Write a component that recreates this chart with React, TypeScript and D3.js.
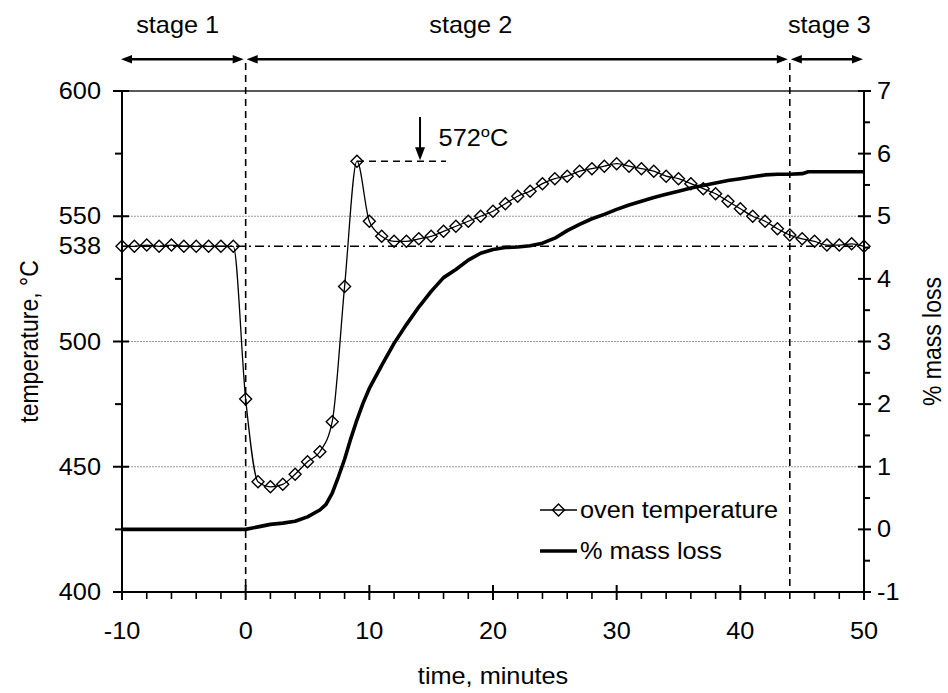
import React from "react";
import * as d3 from "d3";

// ---- data ----
const minutes = [-10,-9,-8,-7,-6,-5,-4,-3,-2,-1,0,1,2,3,4,5,6,7,8,9,10,11,12,13,14,15,16,17,18,19,20,21,22,23,24,25,26,27,28,29,30,31,32,33,34,35,36,37,38,39,40,41,42,43,44,45,46,47,48,49,50];
const ovenTemp = [538,538,538.5,538,538.5,538,538,538,538,538,477,444,442,443,447,452,456,468,522,572,548,542,540,540,541,542,544,546,548,550,552,555,558,560,563,565,566,568,569,570,571,570,569,568,566,565,563,561,559,556,553,550,548,545,542.5,541,540,538.5,538.5,539,538];

const massTime = [-10,0,1,2,3,4,5,6,6.5,7,7.5,8,8.5,9,9.5,10,11,12,13,14,15,16,17,18,19,20,21,22,23,24,25,26,27,28,29,30,31,32,33,34,35,36,37,38,39,40,41,42,43,44,45,45.5,50];
const massLoss = [0,0,0.04,0.08,0.1,0.13,0.2,0.31,0.4,0.58,0.84,1.12,1.45,1.75,2.02,2.25,2.62,2.97,3.27,3.55,3.8,4.02,4.15,4.3,4.41,4.47,4.5,4.51,4.53,4.57,4.65,4.77,4.87,4.96,5.03,5.11,5.18,5.24,5.3,5.35,5.4,5.45,5.49,5.53,5.57,5.6,5.63,5.66,5.67,5.67,5.68,5.71,5.71];

const tempTicks = [400,450,500,550,600];
const tempMinor = [425,475,525,575];
const tempGrid = [450,500,550];
const massTicks = [-1,0,1,2,3,4,5,6,7];
const massMinor = [-0.5,0.5,1.5,2.5,3.5,4.5,5.5,6.5];
const timeTicks = [-10,0,10,20,30,40,50];
const timeMinor = [-8,-6,-4,-2,2,4,6,8,12,14,16,18,22,24,26,28,32,34,36,38,42,44,46,48];
const stageBounds = [-10,0,44,50];
const stageNames = ["stage 1","stage 2","stage 3"];
const stageLabelAt = [-5.5,18.2,47.2];
const refTemp = 538;
const peakTime = 9;
const peakTemp = 572;
const peakLabel = "572";

const W = 948, H = 693;
const FS = 23;
const SX = 1.1;
const FONT = "Liberation Sans, Arial, sans-serif";

const T = ({ x, y, anchor = "start", rot = false, children, size = FS }: any) => (
  <text
    transform={`translate(${x},${y})${rot ? " rotate(-90) scale(1," + SX + ")" : " scale(" + SX + ",1)"}`}
    textAnchor={anchor}
    fontFamily={FONT}
    fontSize={size}
    fill="#000"
  >
    {children}
  </text>
);

const diamond = (cx: number, cy: number, r = 6) =>
  `M${cx},${cy - r}L${cx + r},${cy}L${cx},${cy + r}L${cx - r},${cy}Z`;

export default function App() {
  const x = d3.scaleLinear().domain([-10, 50]).range([122, 864]);
  const yT = d3.scaleLinear().domain([400, 600]).range([592, 91]);
  const yM = d3.scaleLinear().domain([-1, 7]).range([592, 91]);
  const left = x(-10), right = x(50), top = yT(600), bottom = yT(400);

  const tempLine = d3
    .line<number>()
    .x((_, i) => x(minutes[i]))
    .y((d) => yT(d))
    .curve(d3.curveMonotoneX)(ovenTemp) as string;
  const massLine = d3
    .line<number>()
    .x((_, i) => x(massTime[i]))
    .y((d) => yM(d))(massLoss) as string;

  const arrowY = 59.3;
  const ah = 11, aw = 4.3;
  const headR = (tx: number, y: number) => `M${tx},${y}L${tx - ah},${y - aw}L${tx - ah},${y + aw}Z`;
  const headL = (tx: number, y: number) => `M${tx},${y}L${tx + ah},${y - aw}L${tx + ah},${y + aw}Z`;

  const peakY = yT(peakTemp);
  const annArrowX = x(14.1);

  return (
    <svg width={W} height={H} style={{ position: "absolute", left: 0, top: 0, background: "#fff" }}>
      <rect x={0} y={0} width={W} height={H} fill="#fff" />
      {/* gridlines */}
      {tempGrid.map((v) => (
        <line key={v} x1={left} x2={right} y1={yT(v)} y2={yT(v)} stroke="#9a9a9a" strokeWidth={1} strokeDasharray="2,1" />
      ))}
      <line x1={left - 9} x2={right + 7} y1={top} y2={top} stroke="#222" strokeWidth={1.3} />

      {/* reference line 538 */}
      <line x1={left} x2={right} y1={yT(refTemp)} y2={yT(refTemp)} stroke="#000" strokeWidth={1.4} strokeDasharray="9,4,2,4" />

      {/* stage dividers */}
      {[stageBounds[1], stageBounds[2]].map((v) => (
        <line key={v} x1={x(v)} x2={x(v)} y1={63} y2={bottom} stroke="#000" strokeWidth={1.6} strokeDasharray="7,5" />
      ))}

      {/* stage arrows */}
      {stageNames.map((n, i) => {
        const a = x(stageBounds[i]) + (i === 0 ? -1 : 1);
        const b = x(stageBounds[i + 1]) - (i === 2 ? 1 : 2);
        return (
          <g key={n}>
            <line x1={a + 4} x2={b - 4} y1={arrowY} y2={arrowY} stroke="#000" strokeWidth={2.4} />
            <path d={headL(a, arrowY)} fill="#000" />
            <path d={headR(b, arrowY)} fill="#000" />
            <T x={x(stageLabelAt[i])} y={33} anchor="middle">{n}</T>
          </g>
        );
      })}

      {/* peak annotation */}
      <line x1={x(peakTime)} x2={x(16.2)} y1={peakY} y2={peakY} stroke="#000" strokeWidth={1.5} strokeDasharray="7,5" />
      <line x1={annArrowX} x2={annArrowX} y1={117} y2={peakY - 10} stroke="#000" strokeWidth={2} />
      <path d={`M${annArrowX},${peakY - 1}L${annArrowX - 5},${peakY - 14}L${annArrowX + 5},${peakY - 14}Z`} fill="#000" />
      <text transform={`translate(${x(15.6)},146) scale(${SX},1)`} fontFamily={FONT} fontSize={FS}>
        {peakLabel}
        <tspan fontSize={15} dy={-9}>o</tspan>
        <tspan dy={9}>C</tspan>
      </text>

      {/* series */}
      <path d={massLine} fill="none" stroke="#000" strokeWidth={3.6} strokeLinejoin="round" />
      <path d={tempLine} fill="none" stroke="#000" strokeWidth={1.3} />
      {ovenTemp.map((v, i) => (
        <path key={i} d={diamond(x(minutes[i]), yT(v))} fill="none" stroke="#000" strokeWidth={1.4} />
      ))}

      {/* axes */}
      <line x1={left} x2={left} y1={top} y2={bottom} stroke="#000" strokeWidth={2} />
      <line x1={right} x2={right} y1={top} y2={bottom} stroke="#000" strokeWidth={2} />
      <line x1={left} x2={right} y1={bottom} y2={bottom} stroke="#000" strokeWidth={2} />
      {tempTicks.map((v) => (
        <g key={v}>
          <line x1={left - 9} x2={left + 7} y1={yT(v)} y2={yT(v)} stroke="#000" strokeWidth={2} />
          <T x={101} y={yT(v) + 8} anchor="end">{v}</T>
        </g>
      ))}
      <T x={101} y={yT(refTemp) + 8} anchor="end">{refTemp}</T>
      {tempMinor.map((v) => (
        <line key={v} x1={left - 7} x2={left} y1={yT(v)} y2={yT(v)} stroke="#000" strokeWidth={2} />
      ))}
      {massTicks.map((v) => (
        <g key={v}>
          <line x1={right - 6} x2={right + 7} y1={yM(v)} y2={yM(v)} stroke="#000" strokeWidth={2} />
          <T x={877} y={yM(v) + 8}>{v}</T>
        </g>
      ))}
      {massMinor.map((v) => (
        <line key={v} x1={right} x2={right + 6} y1={yM(v)} y2={yM(v)} stroke="#000" strokeWidth={2} />
      ))}
      {timeTicks.map((v) => (
        <g key={v}>
          <line x1={x(v)} x2={x(v)} y1={bottom - 7} y2={bottom + 8} stroke="#000" strokeWidth={2} />
          <T x={x(v)} y={639} anchor="middle">{v}</T>
        </g>
      ))}
      {timeMinor.map((v) => (
        <line key={v} x1={x(v)} x2={x(v)} y1={bottom} y2={bottom + 7} stroke="#000" strokeWidth={1.6} />
      ))}

      {/* axis titles */}
      <T x={493} y={684} anchor="middle">time, minutes</T>
      <T x={38} y={(top + bottom) / 2} anchor="middle" rot>temperature, °C</T>
      <T x={941} y={(top + bottom) / 2} anchor="middle" rot>% mass loss</T>

      {/* legend */}
      <line x1={540} x2={577} y1={510} y2={510} stroke="#000" strokeWidth={1.3} />
      <path d={diamond(558.5, 510)} fill="none" stroke="#000" strokeWidth={1.4} />
      <T x={580} y={518}>oven temperature</T>
      <line x1={540} x2={577} y1={551} y2={551} stroke="#000" strokeWidth={3.6} />
      <T x={580} y={559}>% mass loss</T>
    </svg>
  );
}
